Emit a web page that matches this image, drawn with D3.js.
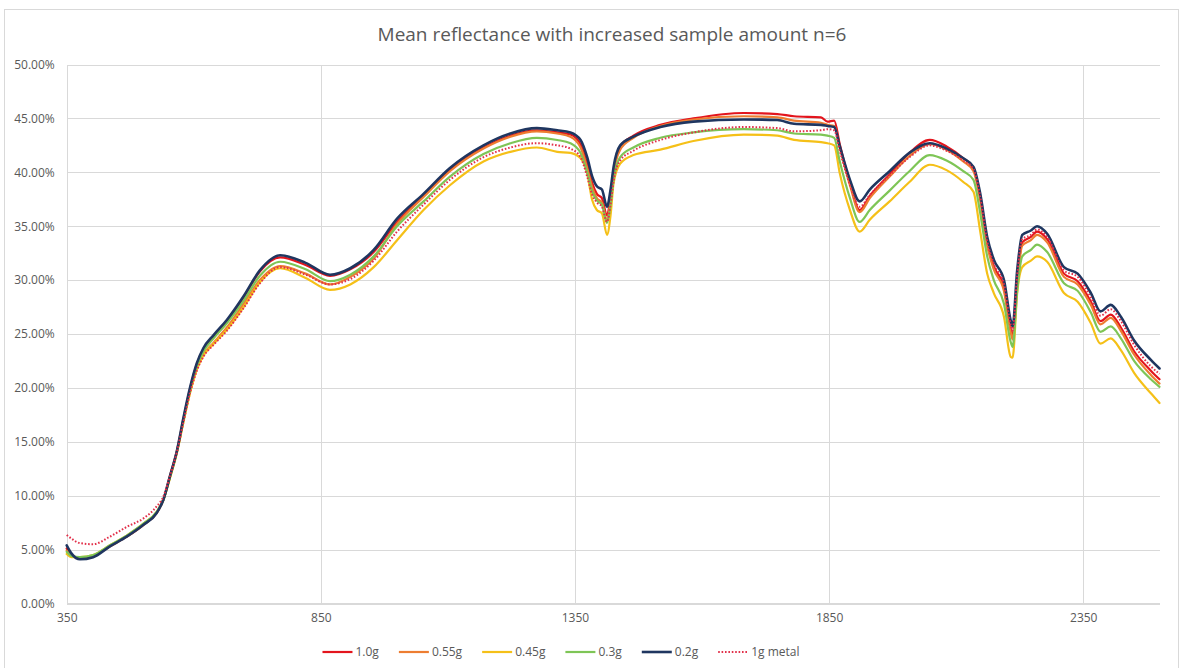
<!DOCTYPE html>
<html>
<head>
<meta charset="utf-8">
<script src="https://cdn.jsdelivr.net/npm/d3@7"></script>
<style>
  html, body { margin: 0; padding: 0; background: #ffffff; }
  svg { display: block; }
</style>
</head>
<body>
<svg id="chart" width="1181" height="668"></svg>
<script>
// Wavelengths (nm) at which the mean spectra are sampled
const wavelengths = [350, 360, 376, 402, 435, 468, 501, 527, 540, 553, 567, 580, 593, 606, 619, 639, 665, 698, 730, 770,
  820, 868, 908, 954, 1000, 1052, 1104, 1170, 1223, 1275, 1315, 1341, 1361, 1374, 1384, 1393, 1403, 1413, 1420, 1426,
  1439, 1465, 1518, 1583, 1682, 1748, 1781, 1834, 1847, 1860, 1871, 1891, 1910, 1930, 1969, 2008, 2048, 2081, 2114, 2134,
  2147, 2161, 2174, 2194, 2207, 2211, 2220, 2230, 2247, 2259, 2279, 2312, 2339, 2365, 2384, 2404, 2424, 2450, 2483, 2500];

// Mean reflectance (%) per sample amount
const refl10g = [5.1, 4.5, 4.2, 4.4, 5.3, 6.2, 7.3, 8.4, 9.6, 11.8, 14.2, 17.2, 20.0, 22.2, 23.6, 24.8, 26.2, 28.4, 30.8, 32.1,
  31.4, 30.4, 31.0, 32.6, 35.4, 37.8, 40.2, 42.3, 43.4, 43.9, 43.7, 43.5, 42.6, 40.8, 39.0, 38.0, 37.6, 36.0, 37.8, 40.2,
  42.4, 43.4, 44.4, 45.0, 45.5, 45.4, 45.2, 45.1, 44.7, 44.8, 42.6, 39.0, 36.5, 37.8, 39.8, 41.8, 43.0, 42.4, 41.3, 40.4,
  37.8, 33.5, 31.3, 29.3, 25.5, 24.8, 30.0, 33.5, 34.0, 34.5, 33.8, 30.6, 29.9, 28.0, 26.2, 26.8, 25.6, 23.4, 21.6, 20.8];

const refl055g = [4.9, 4.4, 4.2, 4.4, 5.3, 6.2, 7.3, 8.4, 9.6, 11.7, 14.1, 17.0, 19.7, 21.8, 23.1, 24.2, 25.6, 27.8, 30.0, 31.3,
  30.6, 29.6, 30.3, 32.0, 35.2, 37.7, 40.1, 42.2, 43.3, 43.8, 43.6, 43.3, 42.3, 40.4, 38.6, 37.6, 37.2, 35.6, 37.4, 39.9,
  42.1, 43.2, 44.3, 44.9, 45.2, 45.1, 44.8, 44.6, 44.4, 44.3, 42.3, 38.8, 36.3, 37.6, 39.6, 41.5, 42.6, 42.1, 41.0, 40.1,
  37.5, 33.2, 31.0, 29.0, 25.2, 24.5, 29.7, 33.2, 33.7, 34.2, 33.5, 30.3, 29.6, 27.7, 25.9, 26.5, 25.3, 23.1, 21.2, 20.4];

const refl045g = [4.6, 4.3, 4.3, 4.5, 5.4, 6.3, 7.4, 8.5, 9.6, 11.6, 14.0, 16.9, 19.6, 21.7, 23.0, 24.1, 25.4, 27.5, 29.8, 31.1,
  30.2, 29.1, 29.6, 31.2, 33.7, 36.5, 38.8, 41.0, 41.9, 42.3, 41.9, 41.8, 41.3, 39.9, 37.4, 36.5, 36.2, 34.2, 36.0, 39.0,
  40.8, 41.6, 42.1, 42.9, 43.5, 43.4, 43.0, 42.8, 42.7, 42.5, 39.9, 36.5, 34.5, 35.6, 37.3, 39.1, 40.7, 40.2, 39.1, 38.2,
  34.6, 30.6, 28.8, 26.6, 22.9, 22.8, 28.8, 31.2, 31.8, 32.2, 31.7, 28.8, 28.0, 26.0, 24.1, 24.6, 23.5, 21.4, 19.5, 18.6];

const refl03g = [4.8, 4.4, 4.3, 4.5, 5.4, 6.3, 7.4, 8.5, 9.6, 11.7, 14.1, 17.1, 19.9, 22.0, 23.4, 24.6, 26.0, 28.1, 30.4, 31.7,
  31.0, 29.9, 30.5, 32.2, 35.0, 37.3, 39.6, 41.7, 42.7, 43.2, 43.0, 42.7, 41.8, 40.0, 38.2, 37.4, 37.0, 35.3, 37.0, 39.4,
  41.4, 42.3, 43.2, 43.7, 44.0, 43.9, 43.6, 43.5, 43.4, 43.2, 41.0, 37.6, 35.4, 36.5, 38.3, 40.1, 41.6, 41.1, 40.1, 39.3,
  36.3, 32.2, 30.0, 27.8, 24.3, 23.8, 29.0, 32.2, 32.8, 33.3, 32.6, 29.7, 29.0, 27.0, 25.2, 25.7, 24.6, 22.5, 20.8, 20.1];

const refl02g = [5.4, 4.6, 4.1, 4.3, 5.3, 6.2, 7.3, 8.4, 9.6, 11.8, 14.2, 17.3, 20.1, 22.3, 23.7, 24.9, 26.3, 28.5, 30.9, 32.3,
  31.6, 30.5, 31.1, 32.8, 35.7, 38.0, 40.4, 42.5, 43.6, 44.1, 43.9, 43.7, 43.0, 41.4, 39.6, 38.7, 38.4, 36.8, 38.4, 40.5,
  42.5, 43.3, 44.2, 44.7, 44.9, 44.85, 44.5, 44.4, 44.3, 44.2, 42.4, 39.3, 37.3, 38.4, 40.1, 41.8, 42.7, 42.2, 41.3, 40.5,
  38.1, 34.0, 31.9, 30.0, 26.3, 25.7, 30.9, 34.2, 34.6, 35.0, 34.3, 31.2, 30.6, 28.8, 27.1, 27.7, 26.6, 24.4, 22.6, 21.8];

const refl1gMetal = [6.35, 6.0, 5.6, 5.5, 6.2, 7.1, 7.9, 9.0, 9.9, 11.8, 14.1, 16.9, 19.6, 21.6, 22.9, 24.0, 25.3, 27.4, 29.7, 31.2,
  30.5, 29.6, 30.1, 31.8, 34.5, 37.0, 39.3, 41.4, 42.3, 42.7, 42.5, 42.2, 41.4, 39.6, 37.9, 37.2, 36.8, 35.4, 37.0, 39.2,
  41.1, 42.0, 43.0, 43.7, 44.2, 44.1, 43.8, 43.9, 44.0, 43.9, 42.0, 38.8, 36.8, 37.9, 39.7, 41.4, 42.5, 42.0, 41.1, 40.3,
  37.8, 33.6, 31.5, 29.6, 25.9, 25.3, 30.4, 33.8, 34.2, 34.7, 34.0, 30.9, 30.3, 28.4, 26.7, 27.3, 26.2, 24.0, 22.0, 21.3];

const seriesNames = ["1.0g", "0.55g", "0.45g", "0.3g", "0.2g", "1g metal"];
const seriesValues = [refl10g, refl055g, refl045g, refl03g, refl02g, refl1gMetal];
const seriesColors = ["#e3151d", "#ed7d31", "#f5c018", "#7ec556", "#1f3660", "#e2304a"];
const seriesWidths = [2.2, 2.2, 2.2, 2.2, 2.6, 2.0];
const seriesDash = [null, null, null, null, null, "1.6,1.8"];

const xTicks = [350, 850, 1350, 1850, 2350];
const yTicks = [0, 5, 10, 15, 20, 25, 30, 35, 40, 45, 50];

const titleText = "Mean reflectance with increased sample amount n=6";

const svg = d3.select("#chart");
const W = 1181, H = 668;
const plot = { left: 66.7, right: 1159.5, top: 64.5, bottom: 603.5 };

const x = d3.scaleLinear().domain([350, 2500]).range([plot.left, plot.right]);
const y = d3.scaleLinear().domain([0, 50]).range([plot.bottom, plot.top]);

const textColor = "#595959";
const gridColor = "#d9d9d9";
const font = "'Open Sans', 'Liberation Sans', sans-serif";
const labelSize = 12;

// chart area frame
svg.append("rect")
  .attr("x", 4.5).attr("y", 9.5)
  .attr("width", W - 7).attr("height", H)
  .attr("fill", "#ffffff")
  .attr("stroke", "#d9d9d9").attr("stroke-width", 1);

// title
svg.append("text")
  .attr("x", 612).attr("y", 41)
  .attr("text-anchor", "middle")
  .attr("font-family", font)
  .attr("font-size", 19)
  .attr("fill", textColor)
  .text(titleText);

// horizontal gridlines + y labels
const yAxis = d3.axisLeft(y).tickValues(yTicks)
  .tickSize(-(plot.right - plot.left))
  .tickPadding(12)
  .tickFormat(d => d3.format(".2f")(d) + "%");
const gy = svg.append("g").attr("transform", `translate(${plot.left},0)`).call(yAxis);
gy.select(".domain").remove();
gy.selectAll(".tick line").attr("stroke", gridColor).attr("stroke-width", 1)
  .attr("shape-rendering", "crispEdges");
gy.selectAll(".tick text").attr("fill", textColor)
  .attr("font-family", font).attr("font-size", labelSize);

// vertical gridlines + x labels
const xAxis = d3.axisBottom(x).tickValues(xTicks)
  .tickSize(-(plot.bottom - plot.top))
  .tickPadding(10)
  .tickFormat(d3.format("d"));
const gx = svg.append("g").attr("transform", `translate(0,${plot.bottom})`).call(xAxis);
gx.select(".domain").attr("stroke", gridColor).attr("d", `M${plot.left},0H${plot.right}`)
  .attr("shape-rendering", "crispEdges");
gx.selectAll(".tick line").attr("stroke", gridColor).attr("stroke-width", 1)
  .attr("shape-rendering", "crispEdges");
gx.selectAll(".tick text").attr("fill", textColor)
  .attr("font-family", font).attr("font-size", labelSize);

// spectra
const line = d3.line()
  .x((d, i) => x(wavelengths[i]))
  .y(d => y(d))
  .curve(d3.curveMonotoneX);

const lines = svg.append("g").attr("fill", "none")
  .attr("stroke-linejoin", "round").attr("stroke-linecap", "round");
seriesValues.forEach((vals, k) => {
  const p = lines.append("path")
    .attr("d", line(vals))
    .attr("stroke", seriesColors[k])
    .attr("stroke-width", seriesWidths[k]);
  if (seriesDash[k]) p.attr("stroke-dasharray", seriesDash[k]).attr("stroke-linecap", "butt");
});

// legend, centred under the plot
const legend = svg.append("g");
const legY = 652;
const gap = 20;
let cx = 0;
seriesNames.forEach((name, k) => {
  const g = legend.append("g").attr("transform", `translate(${cx},0)`);
  const ln = g.append("line")
    .attr("x1", 0).attr("x2", 30).attr("y1", legY).attr("y2", legY)
    .attr("stroke", seriesColors[k]).attr("stroke-width", seriesWidths[k]);
  if (seriesDash[k]) ln.attr("stroke-dasharray", seriesDash[k]);
  const t = g.append("text")
    .attr("x", 33).attr("y", legY + 4)
    .attr("font-family", font).attr("font-size", labelSize)
    .attr("fill", textColor).text(name);
  cx += 33 + t.node().getComputedTextLength() + gap;
});
const totalW = cx - gap;
legend.attr("transform", `translate(${561 - totalW / 2},0)`);
</script>
</body>
</html>
